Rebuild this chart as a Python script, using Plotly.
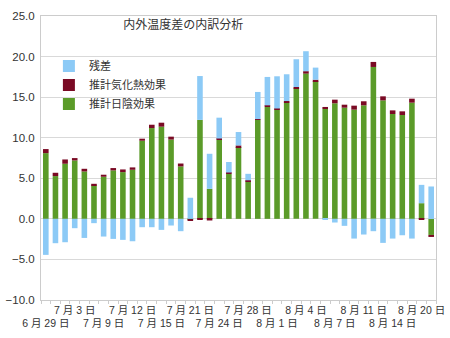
import plotly.graph_objects as go

dates = ["6 月 29 日", "6 月 30 日", "7 月 1 日", "7 月 3 日", "7 月 5 日", "7 月 7 日",
         "7 月 9 日", "7 月 10 日", "7 月 11 日", "7 月 12 日", "7 月 13 日", "7 月 14 日",
         "7 月 15 日", "7 月 17 日", "7 月 19 日", "7 月 21 日", "7 月 22 日", "7 月 23 日",
         "7 月 24 日", "7 月 25 日", "7 月 27 日", "7 月 28 日", "7 月 30 日", "7 月 31 日",
         "8 月 1 日", "8 月 2 日", "8 月 3 日", "8 月 4 日", "8 月 5 日", "8 月 6 日",
         "8 月 7 日", "8 月 9 日", "8 月 10 日", "8 月 11 日", "8 月 12 日", "8 月 13 日",
         "8 月 14 日", "8 月 16 日", "8 月 18 日", "8 月 20 日", "8 月 21 日"]

shade = [8.1, 5.27, 6.79, 7.2, 5.84, 4.12, 5.19, 5.97, 5.76, 6.05, 9.63, 11.19, 11.36,
         9.77, 6.46, -0.05, 12.2, 3.7, 9.75, 5.56, 8.85, 4.6, 12.2, 13.79, 13.5, 14.32,
         16.05, 17.9, 16.95, 13.54, 14.24, 13.7, 13.46, 13.99, 18.72, 14.6, 12.92, 12.8,
         14.32, 1.93, -1.98]

evap = [0.5, 0.41, 0.53, 0.29, 0.33, 0.2, 0.25, 0.29, 0.33, 0.29, 0.25, 0.41, 0.49,
        0.36, 0.36, -0.2, -0.1, -0.2, 0.15, 0.15, 0.2, 0.15, 0.1, 0.2, 0.1, 0.2,
        0.2, 0.3, 0.2, 0.25, 0.45, 0.37, 0.49, 0.5, 0.62, 0.5, 0.45, 0.45,
        0.49, -0.1, -0.25]

resid = [-4.44, -3.0, -2.88, -1.15, -2.35, -0.53, -2.18, -2.47, -2.59, -2.76, -1.03,
         -1.03, -1.36, -0.82, -1.52, 2.6, 5.4, 4.32, 2.57, 1.3, 1.65, 0.8, 3.34, 3.5,
         3.97, 3.3, 3.42, 2.46, 1.49, -0.1, -0.45, -0.86, -2.43, -1.93, -1.52, -2.96,
         -2.43, -2.02, -2.43, 2.26, 3.99]

names = ["推計日陰効果", "推計気化熱効果", "残差"]
colors = ["#5b9b29", "#7a0a24", "#8ccaf6"]

title_text = "内外温度差の内訳分析"

# tick labels: every 3rd category, alternating rows
ticktext = []
for i, d in enumerate(dates):
    if i % 3 == 0:
        k = i // 3
        ticktext.append(d if k % 2 == 1 else "<br>" + d)
    else:
        ticktext.append("")

FONT = "Liberation Sans, Arial, Noto Sans CJK JP, sans-serif"

fig = go.Figure()
for vals, nm, col in zip([shade, evap, resid], names, colors):
    fig.add_trace(go.Bar(x=dates, y=vals, name=nm, marker=dict(color=col, line=dict(width=0))))

fig.update_layout(
    width=450, height=338,
    barmode="relative", bargap=0.42,
    plot_bgcolor="white", paper_bgcolor="white",
    margin=dict(l=41, r=5, t=16, b=38),
    font=dict(family=FONT, size=11, color="#333333"),
    title=dict(text=title_text, x=0.36, xref="paper", xanchor="center",
               y=1 - 25 / 338, yref="container", yanchor="middle",
               font=dict(size=12, color="#333333")),
    legend=dict(x=0.02, y=0.875, xanchor="left", yanchor="top", traceorder="reversed",
                font=dict(size=11, color="#333333"), bgcolor="rgba(0,0,0,0)"),
    xaxis=dict(type="category", tickmode="array", tickvals=dates, ticktext=ticktext,
               tickson="boundaries", ticks="outside", ticklen=3, tickcolor="#cccccc",
               showgrid=False, showline=True, linecolor="#cccccc", mirror=True,
               tickfont=dict(size=10.5, color="#333333"), tickangle=0),
    yaxis=dict(range=[-10, 25], dtick=5, tickformat=".1f", showgrid=True,
               gridcolor="#d9d9d9", showline=True, linecolor="#cccccc", mirror=True,
               zeroline=False, ticks="", ticklabelstandoff=3,
               tickfont=dict(size=11.5, color="#333333")),
)

fig.write_html("out.html")
